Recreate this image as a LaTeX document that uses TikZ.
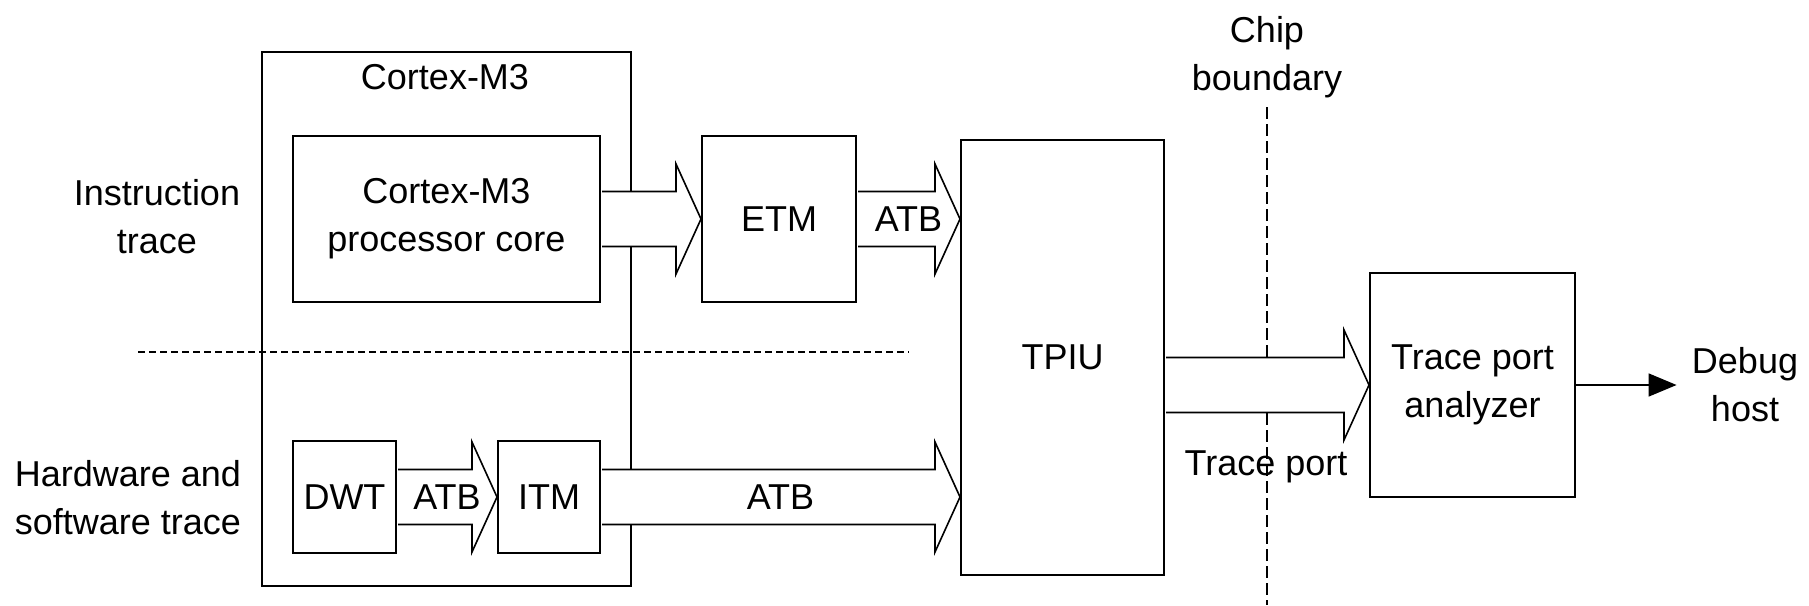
\documentclass[tikz,border=0pt]{standalone}
\usepackage{fontspec}
\setmainfont{Liberation Sans}
\usepackage{tikz}
\usetikzlibrary{positioning}
\usetikzlibrary{calc}
\usetikzlibrary{arrows.meta}

\tikzset{
    block/.style={draw, line width=1pt, inner sep=0pt, align=center},
    bus/.style={draw, fill=white, line width=0.8pt, line join=miter},
    split/.style={line width=0.8pt},
}

\newcommand{\busarrow}[2]{%
    \path[bus] let \p1=(#1), \p2=(#2) in
        (\x1+0.5pt,\y1+13.75pt) -- (\x2-12.5pt,\y1+13.75pt) -- (\x2-12.5pt,\y1+27.5pt) -- (\x2,\y1)
        -- (\x2-12.5pt,\y1-27.5pt) -- (\x2-12.5pt,\y1-13.75pt) -- (\x1+0.5pt,\y1-13.75pt);
}

\begin{document}
\begin{tikzpicture}[x=0.5pt, y=-0.5pt, font=\fontsize{18pt}{24pt}\selectfont]
    \useasboundingbox (0,0) rectangle (1809,605);

    \node [block, minimum width=184.5pt, minimum height=267pt] (m3) at (446.5,319) {};
    \node (m3title) at (445,77) {Cortex-M3};
    \node [block, minimum width=153.5pt, minimum height=83pt] (core) at (446.5,219) {Cortex-M3\\processor core};
    \node [block, minimum width=77pt, minimum height=83pt] (etm) at (779,219) {ETM};
    \node [block, minimum width=101.5pt, minimum height=217.5pt] (tpiu) at (1062.5,357.5) {TPIU};
    \node [block, minimum width=51.5pt, minimum height=56pt] (dwt) at (344.5,497) {DWT};
    \node [block, minimum width=51pt, minimum height=56pt] (itm) at (549,497) {ITM};
    \node [block, minimum width=102.5pt, minimum height=112pt] (tpa) at (1472.5,385) {Trace port\\analyzer};

    \node [align=center] (itrace) at (157,217) {Instruction\\trace};
    \node [align=center] (hwtrace) at (128,498) {Hardware and\\software trace};
    \node [align=center, inner sep=7.5pt] (host) at (1745,385) {Debug\\host};
    \node [align=center] (bnd) at (1267,57) {Chip\\boundary};

    \coordinate (splitl) at (138,352);
    \coordinate (splitr) at (909,352);
    \coordinate (cbtop) at (1267,107);
    \coordinate (cbbot) at (1267,605);

    \draw [split, dash pattern=on 3.5pt off 2pt] (splitl) -- (splitr);
    \draw [split, dash pattern=on 6pt off 2.5pt] (cbtop) -- (cbbot);

    \busarrow{core.east}{etm.west}
    \busarrow{etm.east}{tpiu.west |- etm.east}
    \busarrow{dwt.east}{itm.west}
    \busarrow{itm.east}{tpiu.west |- itm.east}
    \busarrow{tpiu.east |- tpa.west}{tpa.west}

    \node (atb1) at ($(etm.east)!0.5!(tpiu.west |- etm.east)$) {ATB};
    \node (atb2) at ($(dwt.east)!0.5!(itm.west)$) {ATB};
    \node (atb3) at ($(itm.east)!0.5!(tpiu.west |- itm.east)$) {ATB};
    \node (tport) at (1266,467) {Trace port};

    \draw [line width=0.8pt, -{Triangle[length=14pt, width=11.5pt]}] (tpa.east) -- (host.west);
\end{tikzpicture}
\end{document}
